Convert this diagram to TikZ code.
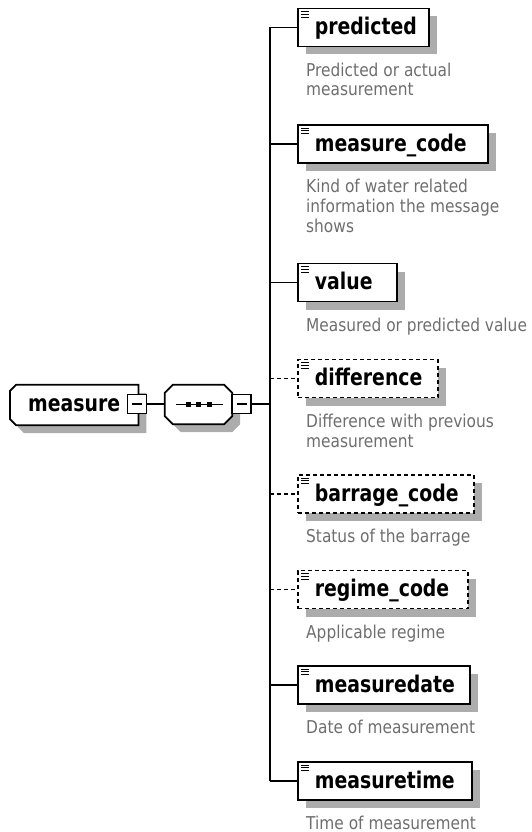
\documentclass[tikz,border=0pt]{standalone}
\usepackage{fontspec}
\setmainfont{DejaVu Sans}
\newfontfamily\labelfont[FakeStretch=0.87]{DejaVu Sans}
\newfontfamily\namefont[FakeStretch=0.82]{DejaVu Sans}
\usetikzlibrary{shadows, backgrounds, positioning}
\definecolor{shadowgray}{RGB}{172,172,172}
\definecolor{descgray}{RGB}{110,110,110}

\begin{document}
\begin{tikzpicture}[x=1pt, y=-1pt,
    boxshadow/.style={general shadow={fill=shadowgray, shadow xshift=8pt, shadow yshift=-8pt}},
    elem/.style={boxshadow, fill=white, line width=1.8pt, anchor=west, minimum height=38pt,
      inner sep=0pt, text height=26pt, text depth=12pt, align=left,
      font=\namefont\bfseries\fontsize{23}{24}\selectfont},
    req box/.style={draw},
    opt box/.style={draw, dash pattern=on 4pt off 3pt},
    req line/.style={line width=1.4pt},
    opt line/.style={line width=1.4pt, dash pattern=on 4pt off 3pt},
    rootbox/.style={anchor=west, minimum width=128pt, minimum height=40pt, inner sep=0pt,
      text height=26.7pt, text depth=13.3pt, font=\namefont\bfseries\fontsize{23}{24}\selectfont},
    seqbox/.style={minimum width=67pt, minimum height=39pt, inner sep=0pt},
    minus/.style={draw, fill=white, line width=1.4pt, minimum size=19pt, inner sep=0pt},
    desc/.style={anchor=base west, inner sep=0pt, align=left, text=descgray,
      font=\labelfont\fontsize{17.7}{20}\selectfont}]
  \useasboundingbox (0,0) rectangle (531,832);

  \node[rootbox] (root) at (10,405) {measure\hspace{18pt}};
  \node[seqbox] (seq) at (198.5,404.5) {};
  \def\rootpath{([xshift=6pt]root.north west) -- (root.north east) -- (root.south east)
    -- ([xshift=6pt]root.south west) -- ([yshift=6pt]root.south west)
    -- ([yshift=-6pt]root.north west) -- cycle}
  \def\seqpath{([xshift=8pt]seq.north west) -- ([xshift=-8pt]seq.north east)
    -- ([yshift=-8pt]seq.north east) -- ([yshift=8pt]seq.south east)
    -- ([xshift=-8pt]seq.south east) -- ([xshift=8pt]seq.south west)
    -- ([yshift=8pt]seq.south west) -- ([yshift=-8pt]seq.north west) -- cycle}
  \begin{scope}[on background layer]
    \fill[shadowgray, transform canvas={xshift=8pt, yshift=-8pt}] \rootpath;
    \fill[shadowgray, transform canvas={xshift=8pt, yshift=-8pt}] \seqpath;
    \fill[white] \rootpath;
    \fill[white] \seqpath;
  \end{scope}
  \draw[line width=1.8pt] \rootpath;
  \draw[line width=1.8pt] \seqpath;

  \node[minus] (rminus) at (137,404) {};
  \draw[req line] ([xshift=-5pt]rminus.center) -- ([xshift=5pt]rminus.center);
  \draw[line width=1.1pt] ([xshift=11pt]seq.west) -- ([xshift=-9pt]seq.east);
  \foreach \dx in {-10.5,0,10.5}
    \fill ([xshift=\dx pt]seq.center) +(-2.5pt,-2.5pt) rectangle +(2.5pt,2.5pt);
  \node[minus] (sminus) at (241.5,404) {};
  \draw[req line] ([xshift=-5pt]sminus.center) -- ([xshift=5pt]sminus.center);

  \coordinate (bus) at (270,404);
  \draw[req line] (rminus.east) -- (rminus.east -| seq.west);
  \draw[req line] (sminus.east) -- (bus);

  \foreach \name/\yc/\w/\kind/\n/\desc [count=\i] in {
    predicted/27.5/131/req/1/{Predicted or actual\\measurement},
    measure\_code/144/190/req/2/{Kind of water related\\information the message\\shows},
    value/282.5/99/req/0/{Measured or predicted value},
    difference/378.5/140/opt/1/{Difference with previous\\measurement},
    barrage\_code/494/176/opt/0/{Status of the barrage},
    regime\_code/589.5/170/opt/0/{Applicable regime},
    measuredate/685/172/req/0/{Date of measurement},
    measuretime/781/174/req/0/{Time of measurement}}{
    \node[elem, \kind\space box, text width=\w pt] (e\i) at (297,\yc) {\hspace*{17pt}\name};
    \foreach \k in {4,6.7,9.4}
      \draw[line width=0.9pt] ([xshift=4pt,yshift=-\k pt]e\i.north west) -- ++(8pt,0pt);
    \draw[\kind\space line] (bus |- e\i.west) -- (e\i.west);
    \node[desc] (d\i) at (306,\yc+48.5+\n*20) {\desc};
  }
  \draw[req line] (bus |- e1.west) -- (bus |- e8.west);
\end{tikzpicture}
\end{document}
